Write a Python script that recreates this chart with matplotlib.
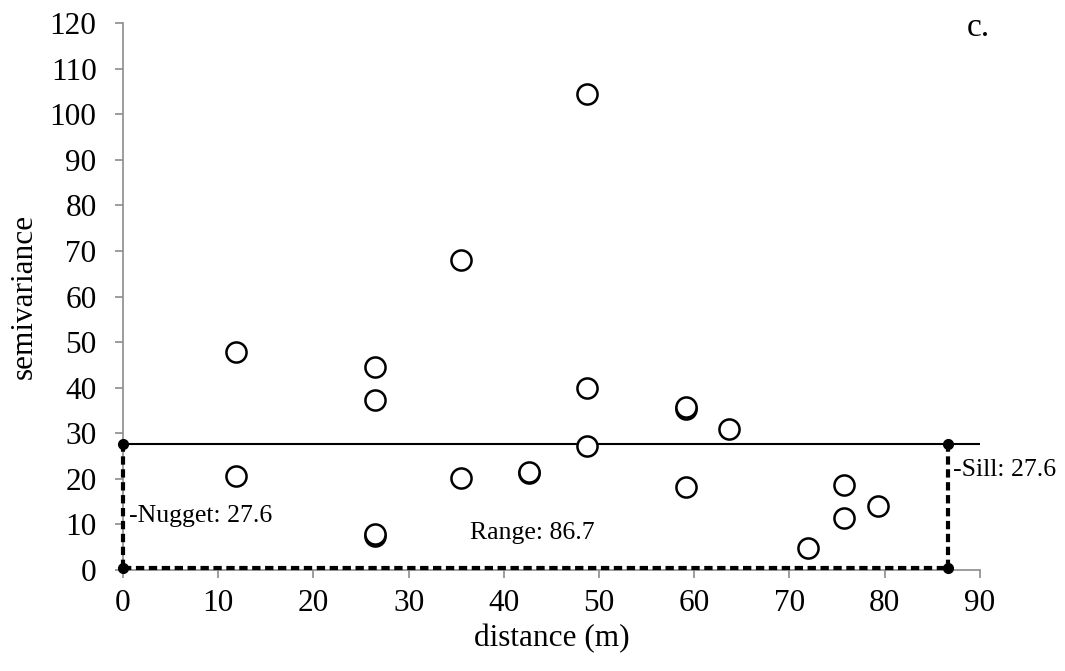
import matplotlib
matplotlib.use("Agg")
import matplotlib.pyplot as plt

plt.rcParams['font.family'] = ['Liberation Serif', 'DejaVu Serif']

distance = [11.9, 11.9, 26.5, 26.5, 26.5, 26.5, 35.5, 35.5, 42.6, 42.6,
            48.7, 48.7, 48.7, 59.1, 59.1, 59.1, 63.7, 72.0, 75.7, 75.7, 79.3]
semivariance = [47.8, 20.6, 44.5, 37.3, 7.5, 7.9, 68.0, 20.2, 21.3, 21.6,
                104.4, 39.9, 27.2, 35.3, 35.8, 18.2, 30.9, 4.8, 18.7, 11.4, 14.1]

nugget = 27.6
sill = 27.6
range_ = 86.7
base = 0.4
x_max = 90


def main():
    fig = plt.figure(figsize=(10.65, 6.71), dpi=100)
    ax = fig.add_axes([0.1155, 0.1505, 0.8045, 0.815])

    ax.scatter(distance, semivariance, s=210, facecolors='white',
               edgecolors='black', linewidths=1.8, zorder=4)

    # sill line and box
    dash = (0, (2.0, 1.1))
    ax.plot([0, x_max], [sill, sill], color='black', lw=1.5, zorder=3)
    for xs, ys in [([0, 0], [base, nugget]),
                   ([range_, range_], [base, sill]),
                   ([0, range_], [base, base])]:
        ax.plot(xs, ys, color='black', lw=3.0, ls=dash, zorder=3, clip_on=False)
    ax.plot([0, 0, range_, range_], [base, nugget, sill, base], 'o',
            color='black', ms=7, zorder=5, clip_on=False)

    ax.text(0.6, 11.8, '-Nugget: 27.6', fontsize=18.5, va='center', ha='left')
    ax.text(range_ + 0.5, 21.9, '-Sill: 27.6', fontsize=18.5, va='center', ha='left')
    ax.text(36.4, 8.1, 'Range: 86.7', fontsize=18.5, va='center', ha='left')
    ax.text(89.8, 119, 'c.', fontsize=24, va='center', ha='center')

    ax.set_xlim(0, x_max)
    ax.set_ylim(0, 120)
    ax.set_xticks(range(0, 91, 10))
    ax.set_yticks(range(0, 121, 10))

    for side in ['top', 'right']:
        ax.spines[side].set_visible(False)
    for side in ['left', 'bottom']:
        ax.spines[side].set_color('#8c8c8c')
        ax.spines[side].set_linewidth(1.2)
    ax.tick_params(direction='out', length=6, width=1.2, color='#8c8c8c',
                   labelsize=22.5)
    ax.tick_params(axis='x', pad=8)
    ax.tick_params(axis='y', pad=13)

    ax.set_xlabel('distance (m)', fontsize=22.5, labelpad=4)
    ax.set_ylabel('semivariance', fontsize=22.5, labelpad=8)

    fig.savefig('out.png', dpi=100)


if __name__ == '__main__':
    main()
